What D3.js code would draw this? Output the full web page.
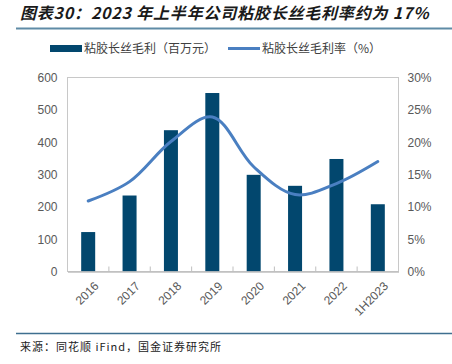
<!DOCTYPE html>
<html>
<head>
<meta charset="utf-8">
<script src="https://cdn.jsdelivr.net/npm/d3@7"></script>
<style>
  body { margin: 0; background: #fff; }
  svg { display: block; font-family: "Liberation Sans", Arial, sans-serif; }
</style>
</head>
<body>
<svg id="chart" width="452" height="364"></svg>
<script>
const categories = ["2016", "2017", "2018", "2019", "2020", "2021", "2022", "1H2023"];
const profit = [122, 235, 437, 552, 299, 265, 348, 208];       // 百万元
const margin = [10.9, 13.9, 20.1, 23.9, 16.2, 11.9, 13.6, 17.0]; // %
const leftTicks = [0, 100, 200, 300, 400, 500, 600];
const rightTicks = [0, 5, 10, 15, 20, 25, 30];

const barColor = "#02476e";
const lineColor = "#4a7fc1";
const cjk = '"Noto Sans CJK SC", "Noto Sans", sans-serif';

const svg = d3.select("#chart");
const plot = { left: 67.5, right: 398.5, top: 77.5, bottom: 271.5 };

// title
svg.append("text")
  .attr("x", 20).attr("y", 19)
  .style("font-family", cjk)
  .style("font-size", "16px")
  .style("font-weight", "bold")
  .style("font-style", "italic")
  .style("letter-spacing", "0.8px")
  .attr("fill", "#1a1a1a")
  .text("图表30：2023 年上半年公司粘胶长丝毛利率约为 17%");

svg.append("line")
  .attr("x1", 16).attr("x2", 452).attr("y1", 28.5).attr("y2", 28.5)
  .attr("stroke", "#5f8ba6").attr("stroke-width", 2);

svg.append("line")
  .attr("x1", 16).attr("x2", 452).attr("y1", 333.5).attr("y2", 333.5)
  .attr("stroke", "#3f6f8f").attr("stroke-width", 1.5);

svg.append("text")
  .attr("x", 20).attr("y", 351)
  .style("font-family", cjk)
  .style("font-size", "11px")
  .style("letter-spacing", "1px")
  .attr("fill", "#222")
  .text("来源：同花顺 iFind，国金证券研究所");

// legend
const lg = svg.append("g").style("font-family", cjk).style("font-size", "12px").attr("fill", "#404040");
lg.append("rect").attr("x", 50).attr("y", 45).attr("width", 32).attr("height", 7).attr("fill", barColor);
lg.append("text").attr("x", 84).attr("y", 53).text("粘胶长丝毛利（百万元）");
lg.append("line").attr("x1", 228).attr("x2", 260).attr("y1", 48.5).attr("y2", 48.5)
  .attr("stroke", lineColor).attr("stroke-width", 3);
lg.append("text").attr("x", 262).attr("y", 53).text("粘胶长丝毛利率（%）");

// scales
const x = d3.scaleBand().domain(categories).range([plot.left, plot.right]);
const y1 = d3.scaleLinear().domain([0, 600]).range([plot.bottom, plot.top]);
const y2 = d3.scaleLinear().domain([0, 30]).range([plot.bottom, plot.top]);

// frame
svg.append("rect")
  .attr("x", plot.left).attr("y", plot.top)
  .attr("width", plot.right - plot.left).attr("height", plot.bottom - plot.top)
  .attr("fill", "none").attr("stroke", "#c8c8c8");

// bars
svg.append("g").selectAll("rect")
  .data(categories)
  .join("rect")
  .attr("x", d => x(d) + x.bandwidth() / 2 - 7)
  .attr("width", 14)
  .attr("y", (d, i) => y1(profit[i]))
  .attr("height", (d, i) => y1(0) - y1(profit[i]))
  .attr("fill", barColor);

// x axis
const xAxis = svg.append("g")
  .attr("transform", `translate(0,${plot.bottom})`)
  .call(d3.axisBottom(x).tickSize(0));
xAxis.select(".domain").attr("stroke", "#bfbfbf").attr("stroke-width", 1.5);
xAxis.selectAll(".tick text")
  .attr("fill", "#595959")
  .style("font-size", "12px")
  .attr("text-anchor", "end")
  .attr("transform", "translate(4,8) rotate(-45)")
  .attr("dy", "0.6em");

// band boundary ticks pointing up
svg.append("g").selectAll("line")
  .data(categories.slice(1))
  .join("line")
  .attr("x1", d => x(d)).attr("x2", d => x(d))
  .attr("y1", plot.bottom).attr("y2", plot.bottom - 5)
  .attr("stroke", "#bfbfbf");

// left axis
const yl = svg.append("g")
  .attr("transform", `translate(${plot.left},0)`)
  .call(d3.axisLeft(y1).tickValues(leftTicks).tickSize(0).tickPadding(10));
yl.select(".domain").remove();
yl.selectAll(".tick text").attr("fill", "#595959").style("font-size", "12px");

// right axis
const yr = svg.append("g")
  .attr("transform", `translate(${plot.right},0)`)
  .call(d3.axisRight(y2).tickValues(rightTicks).tickSize(0).tickPadding(9).tickFormat(d => d + "%"));
yr.select(".domain").remove();
yr.selectAll(".tick text").attr("fill", "#595959").style("font-size", "12px");

// line
const line = d3.line()
  .x((d, i) => x(categories[i]) + x.bandwidth() / 2)
  .y(d => y2(d))
  .curve(d3.curveCatmullRom.alpha(0.5));

svg.append("path")
  .datum(margin)
  .attr("d", line)
  .attr("fill", "none")
  .attr("stroke", lineColor)
  .attr("stroke-width", 3)
  .attr("stroke-linecap", "round");
</script>
</body>
</html>
